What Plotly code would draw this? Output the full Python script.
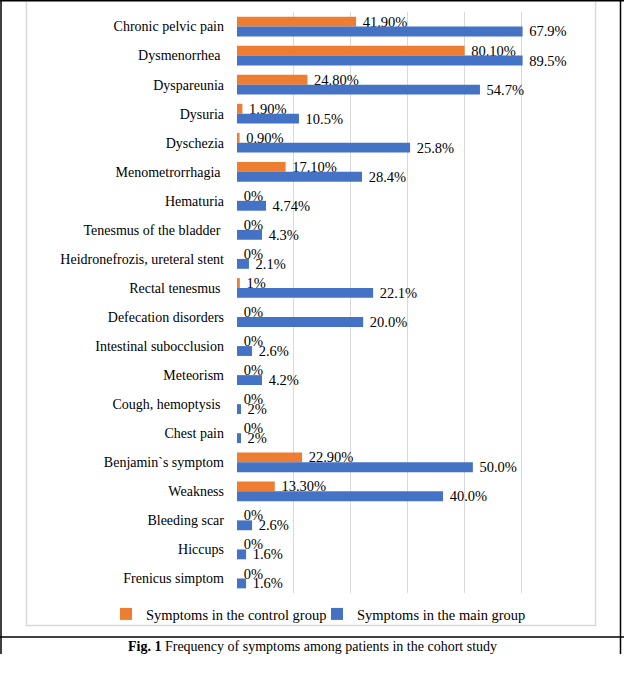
import plotly.graph_objects as go

categories = [
    "Chronic pelvic pain", "Dysmenorrhea\u00a0", "Dyspareunia", "Dysuria", "Dyschezia",
    "Menometrorrhagia\u00a0", "Hematuria", "Tenesmus of the bladder\u00a0",
    "Heidronefrozis, ureteral stent", "Rectal tenesmus\u00a0", "Defecation disorders",
    "Intestinal subocclusion", "Meteorism", "Cough, hemoptysis\u00a0", "Chest pain",
    "Benjamin`s symptom", "Weakness", "Bleeding scar", "Hiccups", "Frenicus simptom",
]
control_values = [41.9, 80.1, 24.8, 1.9, 0.9, 17.1, 0, 0, 0, 1, 0, 0, 0, 0, 0, 22.9, 13.3, 0, 0, 0]
control_labels = ["41.90%", "80.10%", "24.80%", "1.90%", "0.90%", "17.10%", "0%", "0%", "0%", "1%",
                  "0%", "0%", "0%", "0%", "0%", "22.90%", "13.30%", "0%", "0%", "0%"]
# bar lengths as drawn in the picture (they differ from the printed labels)
main_values = [100.5, 100.5, 85.5, 21.8, 60.9, 44.0, 10.2, 8.8, 4.2, 47.9, 44.4, 5.3, 8.8, 1.4, 1.4,
               83.0, 72.5, 5.3, 3.2, 3.2]
main_labels = ["67.9%", "89.5%", "54.7%", "10.5%", "25.8%", "28.4%", "4.74%", "4.3%", "2.1%", "22.1%",
               "20.0%", "2.6%", "4.2%", "2%", "2%", "50.0%", "40.0%", "2.6%", "1.6%", "1.6%"]

FONT = "Liberation Serif"
W, H = 624, 685
L, R, T, B = 237, 578, 12, 593


def px(x):
    return (x - L) / (R - L)


def py(y):
    return (B - y) / (B - T)


def pad(labels):
    return ["\u00a0" + s for s in labels]


fig = go.Figure()
fig.add_trace(go.Bar(
    y=categories, x=control_values, orientation="h", name="Symptoms in the control group",
    marker=dict(color="#ED7D31", line=dict(width=0)),
    text=pad(control_labels), textposition="outside", constraintext="none", cliponaxis=False,
    textfont=dict(family=FONT, size=14.5, color="#000000"),
))
fig.add_trace(go.Bar(
    y=categories, x=main_values, orientation="h", name="Symptoms in the main group",
    marker=dict(color="#4472C4", line=dict(width=0)),
    text=pad(main_labels), textposition="outside", constraintext="none", cliponaxis=False,
    textfont=dict(family=FONT, size=14.5, color="#000000"),
))

shapes = []
# gray chart-area border
shapes.append(dict(type="rect", xref="paper", yref="paper", x0=px(26.5), x1=px(595.5),
                   y0=py(625.5), y1=py(0), line=dict(color="#D9D9D9", width=1.5)))
# outer black frame
shapes.append(dict(type="line", xref="paper", yref="paper", x0=px(1), x1=px(1), y0=py(0), y1=py(654),
                   line=dict(color="black", width=1.5)))
shapes.append(dict(type="line", xref="paper", yref="paper", x0=px(620.5), x1=px(620.5), y0=py(0), y1=py(654),
                   line=dict(color="black", width=1.5)))
shapes.append(dict(type="line", xref="paper", yref="paper", x0=px(0), x1=px(624), y0=py(0.7), y1=py(0.7),
                   line=dict(color="black", width=1.5)))
shapes.append(dict(type="line", xref="paper", yref="paper", x0=px(0), x1=px(624), y0=py(637), y1=py(637),
                   line=dict(color="black", width=1.5)))

fig.update_layout(
    width=W, height=H,
    margin=dict(l=L, r=W - R, t=T, b=H - B, pad=0, autoexpand=False),
    paper_bgcolor="white", plot_bgcolor="white",
    barmode="group", bargap=0.32, bargroupgap=0,
    font=dict(family=FONT, size=14, color="#000000"),
    showlegend=True,
    legend=dict(orientation="h", xref="paper", yref="paper",
                x=px(106), y=py(614), xanchor="left", yanchor="middle",
                font=dict(family=FONT, size=14.5, color="#000000"), bgcolor="rgba(0,0,0,0)",
                itemwidth=30, entrywidth=166, entrywidthmode="pixels", tracegroupgap=0),
    xaxis=dict(range=[0, 120], dtick=20, showgrid=True, gridcolor="#D9D9D9", gridwidth=1,
               showticklabels=False, zeroline=False, showline=False, fixedrange=True),
    yaxis=dict(autorange="reversed", showgrid=False, ticks="", ticklabelstandoff=12,
               tickfont=dict(family=FONT, size=14, color="#000000"), showline=False, zeroline=False,
               fixedrange=True),
    shapes=shapes,
    annotations=[dict(
        xref="paper", yref="paper", x=px(312), y=py(646), xanchor="center", yanchor="middle",
        text="<b>Fig. 1</b> Frequency of symptoms among patients in the cohort study",
        showarrow=False, font=dict(family=FONT, size=14, color="#000000"),
    )],
)

fig.write_html("out.html", post_script="document.body.style.margin='0';",
               config={"displayModeBar": False})
